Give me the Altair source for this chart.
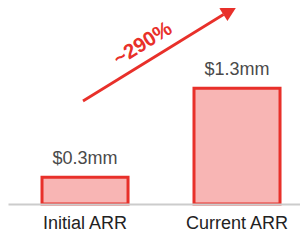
import altair as alt
import pandas as pd

categories = ["Initial ARR", "Current ARR"]
values = [0.3, 1.3]
value_labels = ["$0.3mm", "$1.3mm"]
growth_label = ["~290%"]

df = pd.DataFrame({"cat": categories, "val": values, "lbl": value_labels})
ann = pd.DataFrame({"t": growth_label})

RED = "#e8302a"
FILL = "#f8b5b4"
FONT = "Liberation Sans"

x_enc = alt.X(
    "cat:N",
    sort=categories,
    title=None,
    scale=alt.Scale(paddingInner=0.434, paddingOuter=0.1776, align=0.63),
    axis=alt.Axis(
        labelAngle=0,
        ticks=False,
        tickSize=0,
        domainColor="#cccccc",
        domainWidth=2,
        labelFont=FONT,
        labelFontSize=18,
        labelColor="#222222",
        labelBaseline="alphabetic",
        labelPadding=24,
        grid=False,
        zindex=1,
    ),
)
y_enc = alt.Y("val:Q", scale=alt.Scale(domain=[0, 2.055]), axis=None)

bars = alt.Chart(df).mark_bar(fill=FILL, stroke=RED, strokeWidth=3).encode(
    x=x_enc, y=y_enc
)

labels = alt.Chart(df).mark_text(
    font=FONT, fontSize=18, color="#4a4a4a", baseline="alphabetic", dy=-13
).encode(x=alt.X("cat:N", sort=categories), y="val:Q", text="lbl:N")

arrow_line = alt.Chart(ann).mark_rule(color=RED, strokeWidth=2.8).encode(
    x=alt.value(75), y=alt.value(93), x2=alt.value(215.5), y2=alt.value(6.5)
)

arrow_head = alt.Chart(ann).mark_point(
    shape="M1,0L-1,-0.95L-1,0.95Z", filled=True, color=RED, opacity=1,
    size=256, angle=328
).encode(x=alt.value(222.2), y=alt.value(2.4))

growth = alt.Chart(ann).mark_text(
    font=FONT, fontSize=20.5, fontWeight="bold", color=RED, angle=328,
    align="center", baseline="middle"
).encode(x=alt.value(135), y=alt.value(36), text="t:N")

chart = alt.layer(bars, labels, arrow_line, arrow_head, growth).properties(
    width=292, height=196,
    autosize=alt.AutoSizeParams(type="none"),
    padding={"top": 0, "left": 0, "right": 0, "bottom": 28},
).configure_view(stroke=None)

chart.save("out.html", embed_options={"renderer": "svg", "actions": False})
